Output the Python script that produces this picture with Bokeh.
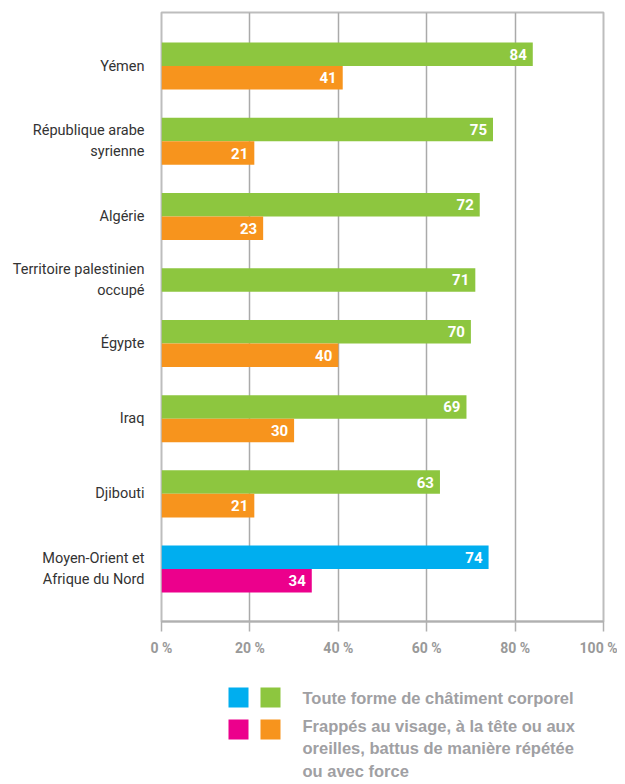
from bokeh.plotting import figure
from bokeh.layouts import column
from bokeh.models import ColumnDataSource, FixedTicker, Range1d
from bokeh.core.properties import value
from bokeh.embed import file_html
from bokeh.resources import INLINE

# ---- data ----
countries = ["Yémen", "République arabe\nsyrienne", "Algérie",
             "Territoire palestinien\noccupé", "Égypte", "Iraq", "Djibouti",
             "Moyen-Orient et\nAfrique du Nord"]
any_punishment = [84, 75, 72, 71, 70, 69, 63, 74]
severe_punishment = [41, 21, 23, None, 40, 30, 21, 34]
is_region = [False, False, False, False, False, False, False, True]
x_ticks = [0, 20, 40, 60, 80, 100]
x_tick_labels = ["0 %", "20 %", "40 %", "60 %", "80 %", "100 %"]
legend_labels = ["Toute forme de châtiment corporel",
                 "Frappés au visage, à la tête ou aux\noreilles, battus de manière répétée\nou avec force"]

GREEN, ORANGE, BLUE, MAGENTA = "#8DC63F", "#F7941D", "#00AEEF", "#EC008C"
FONT = "Roboto"

# ---- layout of rows (in bar units) ----
top_pad, gap, bottom_pad = 1.28, 1.2, 1.23
bar_y, bar_val, bar_col = [], [], []
label_pos = []
cursor = top_pad
for c, a, s, reg in zip(countries, any_punishment, severe_punishment, is_region):
    n = 1 if s is None else 2
    bar_y.append(cursor + 0.5); bar_val.append(a); bar_col.append(BLUE if reg else GREEN)
    if s is not None:
        bar_y.append(cursor + 1.5); bar_val.append(s); bar_col.append(MAGENTA if reg else ORANGE)
    label_pos.append(cursor + n / 2)
    cursor += n + gap
total = cursor - gap + bottom_pad

src = ColumnDataSource(dict(y=bar_y, v=bar_val, c=bar_col, t=[str(v) for v in bar_val]))

p = figure(frame_width=442, frame_height=609, output_backend="svg", toolbar_location=None,
           x_range=Range1d(0, 100), y_range=Range1d(total, 0),
           min_border_left=161, min_border_right=14, min_border_top=12, min_border_bottom=42)
p.hbar(y="y", left=0, right="v", height=1, color="c", source=src, line_color=None)
p.text(x="v", y="y", text="t", source=src, x_offset=-6, text_align="right",
       text_baseline="middle", text_color="white", text_font=value(FONT),
       text_font_style="bold", text_font_size="15px")

p.outline_line_color = "#bdbdbd"
p.outline_line_width = 2
p.ygrid.visible = False
p.xgrid.ticker = FixedTicker(ticks=x_ticks)
p.xgrid.grid_line_color = "#aaaaaa"
p.xgrid.grid_line_width = 1.5

xa = p.xaxis[0]
xa.ticker = FixedTicker(ticks=x_ticks)
xa.major_label_overrides = {t: l for t, l in zip(x_ticks, x_tick_labels)}
xa.axis_line_color = "#b0b0b0"
xa.axis_line_width = 2
xa.major_tick_line_color = "#b0b0b0"
xa.major_tick_line_width = 1.5
xa.major_tick_out = 10
xa.major_tick_in = 0
xa.minor_tick_line_color = None
xa.major_label_standoff = 8
xa.major_label_text_color = "#999999"
xa.major_label_text_font = FONT
xa.major_label_text_font_style = "bold"
xa.major_label_text_font_size = "14px"

ya = p.yaxis[0]
ya.ticker = FixedTicker(ticks=label_pos)
ya.major_label_overrides = {pos: c for pos, c in zip(label_pos, countries)}
ya.axis_line_color = None
ya.major_tick_line_color = None
ya.minor_tick_line_color = None
ya.major_label_standoff = 11
ya.major_label_text_color = "#333333"
ya.major_label_text_font = FONT
ya.major_label_text_font_size = "14.5px"
ya.major_label_text_line_height = 1.25

# ---- legend (frame aligned with the chart frame, coordinates in px) ----
LH = 121
lg = figure(frame_width=442, frame_height=LH, output_backend="svg", toolbar_location=None,
            x_range=Range1d(0, 442), y_range=Range1d(LH, 0),
            x_axis_type=None, y_axis_type=None,
            min_border_left=161, min_border_right=14, min_border_top=0, min_border_bottom=0)
lg.outline_line_color = None
lg.grid.visible = False
lg.rect(x=[77, 109, 77, 109], y=[34, 34, 66, 66], width=20, height=20,
        color=[BLUE, GREEN, MAGENTA, ORANGE], line_color=None)
lg.text(x=[141, 141], y=[34, 85], text=legend_labels, text_baseline="middle",
        text_align="left", text_color="#a0a0a3", text_font=value("Liberation Sans"),
        text_font_style="bold", text_font_size="16.5px", text_line_height=1.27)

layout = column(p, lg, spacing=0)
open("out.html", "w").write(file_html(layout, INLINE))
